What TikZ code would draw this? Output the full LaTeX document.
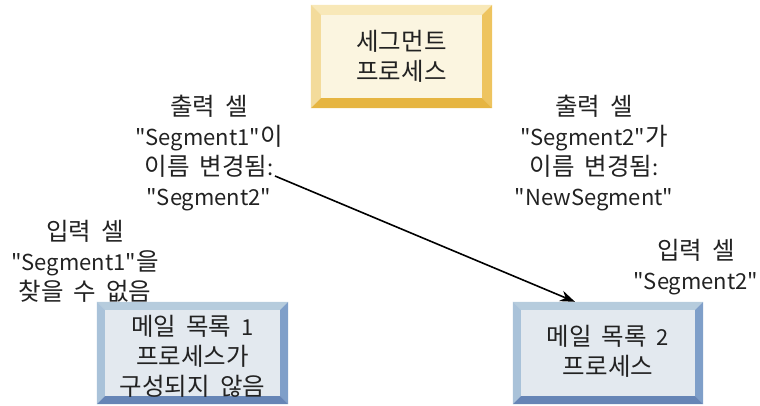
\documentclass[tikz,border=0pt]{standalone}
\usepackage{fontspec}
\setmainfont{Noto Sans CJK KR}[Ligatures=TeXOff]
\usepackage{tikz}
\usetikzlibrary{calc, positioning, arrows.meta}
\definecolor{segFace}{HTML}{FBF5E0}
\definecolor{segTop}{HTML}{F8E8B8}
\definecolor{segLeft}{HTML}{F3DB9B}
\definecolor{segRight}{HTML}{EEC45F}
\definecolor{segBottom}{HTML}{E6B541}
\definecolor{mailFace}{HTML}{E3E9EF}
\definecolor{mailTop}{HTML}{B6CCDD}
\definecolor{mailLeft}{HTML}{A9C2D9}
\definecolor{mailRight}{HTML}{7F9FC9}
\definecolor{mailBottom}{HTML}{6685B6}
\definecolor{ink}{HTML}{222222}

% Latin runs a little smaller than the Hangul
\newcommand\lat[1]{{\fontsize{22}{30}\selectfont #1}}
\newcommand\labelfont{\fontsize{24.5}{30}\selectfont\spaceskip=10pt\relax}

% bevelled edges round a node: #1 node, #2 width (pt), #3..#6 top, left, right, bottom
\newcommand\bevel[6]{%
  \fill[#3] (#1.north west) -- (#1.north east)
    -- ([shift={(-#2pt,-#2pt)}]#1.north east) -- ([shift={(#2pt,-#2pt)}]#1.north west) -- cycle;
  \fill[#4] (#1.north west) -- ([shift={(#2pt,-#2pt)}]#1.north west)
    -- ([shift={(#2pt,#2pt)}]#1.south west) -- (#1.south west) -- cycle;
  \fill[#5] (#1.north east) -- (#1.south east)
    -- ([shift={(-#2pt,#2pt)}]#1.south east) -- ([shift={(-#2pt,-#2pt)}]#1.north east) -- cycle;
  \fill[#6] (#1.south west) -- (#1.south east)
    -- ([shift={(-#2pt,#2pt)}]#1.south east) -- ([shift={(#2pt,#2pt)}]#1.south west) -- cycle;
}

\begin{document}
\begin{tikzpicture}[
  x=1pt, y=-1pt,
  txt/.style={align=center, inner sep=0pt, text=ink, font=\labelfont},
  procbox/.style={minimum width=#1, minimum height=102pt, inner sep=0pt},
  >={Stealth[length=15pt, width=11pt]}
]
  \useasboundingbox (0,0) rectangle (760,406);

  % ── boxes ──
  \node[procbox=181pt, fill=segFace, minimum height=103pt] (seg) at (401.5,56.5) {};
  \bevel{seg}{10}{segTop}{segLeft}{segRight}{segBottom}
  \node[txt] (segtxt) at (seg) {세그먼트\\프로세스};

  \node[procbox=191pt, fill=mailFace] (mail1) at (192.5,353) {};
  \bevel{mail1}{8}{mailTop}{mailLeft}{mailRight}{mailBottom}
  \node[txt] (mail1txt) at (192.5,356) {메일 목록 \lat{1}\\프로세스가\\구성되지 않음};

  \node[procbox=190pt, fill=mailFace] (mail2) at (608,353) {};
  \bevel{mail2}{8}{mailTop}{mailLeft}{mailRight}{mailBottom}
  \node[txt] (mail2txt) at (608,351) {메일 목록 \lat{2}\\프로세스};

  % ── labels ──
  \node[txt] (out1) at (209,153)
    {출력 셀\\\lat{"Segment1"}이\\이름 변경됨\lat{:}\\\lat{"Segment2"}};
  \node[txt] (out2) at (594,153)
    {출력 셀\\\lat{"Segment2"}가\\이름 변경됨\lat{:}\\\lat{"NewSegment"}};
  \node[txt] (in1) at (85,261)
    {입력 셀\\\lat{"Segment1"}을\\찾을 수 없음};
  \node[txt] (in2) at (696,267)
    {입력 셀\\\lat{"Segment2"}};

  % ── rename arrow ──
  \coordinate (renameFrom) at (275,176);
  \coordinate (renameTo) at ($(mail2.north)+(-33pt,0)$);
  \draw[->, line width=1.6pt] (renameFrom) -- (renameTo);
\end{tikzpicture}
\end{document}
